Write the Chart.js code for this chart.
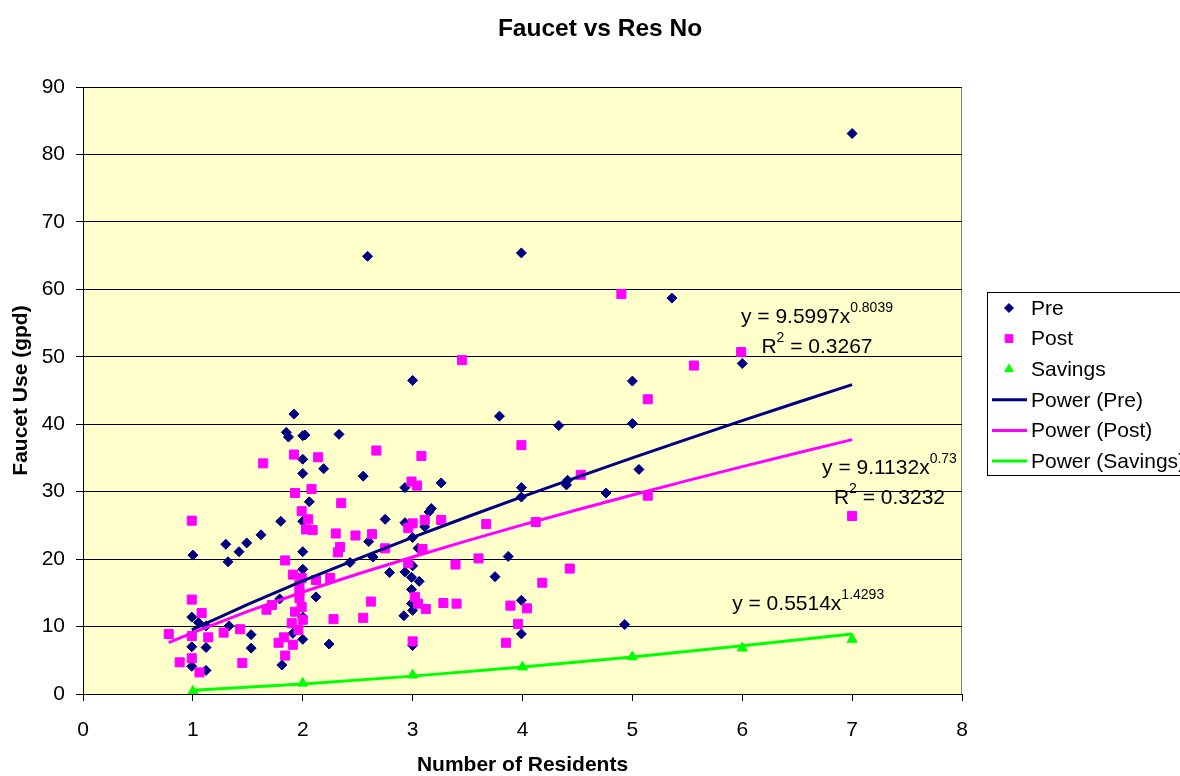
<!DOCTYPE html>
<html>
<head>
<meta charset="utf-8">
<title>Faucet vs Res No</title>
<script src="https://cdn.jsdelivr.net/npm/chart.js@4.4.1/dist/chart.umd.min.js"></script>
<style>
  html, body { margin: 0; padding: 0; background: #fff; }
  #wrap { width: 1180px; height: 776px; }
</style>
</head>
<body>
<div id="wrap"><canvas id="chart" width="1180" height="776"></canvas></div>
<script>
const FONT = "'Liberation Sans', Arial, sans-serif";

// Pre (gpd per home vs residents)
const preX = [1.0, 0.99, 1.05, 1.12, 0.99, 1.12, 0.99, 1.12,
    1.30, 1.32, 1.33, 1.42, 1.49, 1.53, 1.53,
    1.62, 1.79, 1.80, 1.81, 1.85, 1.87, 1.91, 1.92,
    2.0, 2.02, 2.0, 2.0, 2.0, 2.0, 2.0, 2.0, 2.0,
    2.06, 2.12, 2.19, 2.24, 2.33, 2.43, 2.55, 2.59, 2.60, 2.64,
    2.75, 2.79, 2.92, 2.93, 2.93, 2.93,
    3.0, 3.0, 3.0, 2.99, 2.99, 2.99, 3.0, 3.0,
    3.05, 3.06, 3.11, 3.15, 3.17, 3.26,
    3.75, 3.79, 3.87, 3.99, 3.99, 3.99, 3.99, 3.99,
    4.33, 4.40, 4.41, 4.76, 4.93, 5.0, 5.0, 5.06, 5.36, 6.0, 7.0];
const preY = [20.6, 11.4, 10.6, 10.1, 7.0, 6.9, 4.1, 3.5,
    22.2, 19.6, 10.1, 21.1, 22.4, 8.8, 6.8,
    23.6, 14.1, 25.6, 4.3, 38.8, 38.1, 9.0, 41.5,
    38.3, 38.4, 34.8, 32.7, 25.6, 21.1, 18.5, 11.4, 8.1,
    28.5, 14.4, 33.4, 7.4, 38.5, 19.5, 32.3, 64.9, 22.6, 20.3,
    25.9, 18.0, 11.6, 30.6, 25.4, 18.1,
    46.5, 23.2, 19.0, 17.3, 15.5, 13.4, 12.4, 7.2,
    21.6, 16.7, 24.8, 27.0, 27.5, 31.3,
    17.4, 41.2, 20.4, 65.4, 30.6, 29.2, 13.9, 8.9,
    39.8, 31.0, 31.7, 29.8, 10.3, 46.4, 40.1, 33.3, 58.7, 49.0, 83.1];

// Post
const postX = [0.78, 0.88, 0.99, 0.99, 0.99, 0.99, 1.06, 1.08, 1.14,
    1.28, 1.43, 1.45, 1.64, 1.67, 1.72, 1.78, 1.83, 1.84, 1.84,
    1.91, 1.91, 1.92, 1.93, 1.90, 1.93, 1.96, 1.97, 1.97, 1.97, 1.99, 1.99, 1.99,
    2.0, 2.03, 2.05, 2.09, 2.08, 2.12, 2.14,
    2.25, 2.28, 2.30, 2.32, 2.34, 2.35, 2.48, 2.55, 2.62, 2.63, 2.67, 2.75,
    2.96, 2.96, 2.99, 3.0, 3.0, 3.02, 3.04, 3.05, 3.08, 3.09, 3.11, 3.12, 3.26, 3.28, 3.39, 3.40, 3.45,
    3.60, 3.67, 3.85, 3.89, 3.96, 3.99, 4.04, 4.12, 4.18, 4.43, 4.53,
    4.90, 5.14, 5.14, 5.56, 5.99, 7.0];
const postY = [8.9, 4.7, 25.7, 14.0, 8.6, 5.3, 3.2, 12.0, 8.4,
    9.1, 9.6, 4.6, 34.2, 12.5, 13.2, 7.6, 8.4, 5.7, 19.8,
    17.7, 7.3, 35.5, 29.8, 10.5, 12.2, 9.5, 16.2, 15.2, 14.2, 17.2, 12.9, 27.1,
    11.0, 24.4, 25.9, 24.3, 30.4, 16.9, 35.1,
    17.2, 11.1, 23.8, 21.0, 21.8, 28.3, 23.5, 11.3, 13.7, 23.7, 36.1, 21.6,
    24.6, 19.4, 31.5, 25.3, 7.8, 14.4, 30.9, 13.4, 35.3, 21.5, 25.8, 12.6, 25.8, 13.5, 19.2, 13.4, 49.5,
    20.1, 25.2, 7.6, 13.1, 10.4, 36.9, 12.7, 25.5, 16.5, 18.6, 32.5,
    59.3, 43.7, 29.4, 48.7, 50.7, 26.4];

// Savings
const savX = [1, 2, 3, 4, 5, 6, 7];
const savY = [0.4, 1.6, 2.8, 4.0, 5.5, 6.8, 8.1];

// power trend lines
const preFitX = [0.99, 1.5, 2, 2.5, 3, 3.5, 4, 4.5, 5, 5.5, 6, 6.5, 7];
const preFitY = [9.52, 13.30, 16.76, 20.05, 23.22, 26.28, 29.26, 32.16, 35.01, 37.79, 40.53, 43.22, 45.88];
const postFitX = [0.78, 1, 1.5, 2, 2.5, 3, 3.5, 4, 4.5, 5, 5.5, 6, 6.5, 7];
const postFitY = [7.60, 9.11, 12.25, 15.12, 17.79, 20.32, 22.74, 25.07, 27.32, 29.51, 31.63, 33.71, 35.74, 37.72];
const savFitX = [1, 2, 3, 4, 5, 6, 7];
const savFitY = [0.55, 1.49, 2.65, 4.00, 5.50, 7.14, 8.90];

const xTickValues = [0, 1, 2, 3, 4, 5, 6, 7, 8];
const yTickValues = [0, 10, 20, 30, 40, 50, 60, 70, 80, 90];

// trendline equation text (segments, sup = superscript)
const eqPre = [[['y = 9.5997x'], ['0.8039', 'sup']], [['R'], ['2', 'sup'], [' = 0.3267']]];
const eqPost = [[['y = 9.1132x'], ['0.73', 'sup']], [['R'], ['2', 'sup'], [' = 0.3232']]];
const eqSav = [[['y = 0.5514x'], ['1.4293', 'sup']]];

const toPoints = (xs, ys) => xs.map((x, i) => ({ x, y: ys[i] }));

const plotBg = {
    id: 'plotBg',
    beforeDraw(chart) {
        const { ctx, chartArea: a } = chart;
        ctx.save();
        ctx.fillStyle = '#FFFFCC';
        ctx.fillRect(a.left, a.top, a.right - a.left, a.bottom - a.top);
        ctx.strokeStyle = '#808080';
        ctx.lineWidth = 1;
        ctx.strokeRect(a.left + 0.5, a.top + 0.5, a.right - a.left - 1, a.bottom - a.top);
        ctx.restore();
    }
};

const equations = {
    id: 'equations',
    afterDatasetsDraw(chart) {
        const { ctx, scales } = chart;
        const items = [
            { eq: eqPre, x: 6.68, y: 55.0 },
            { eq: eqPost, x: 7.34, y: 32.6 },
            { eq: eqSav, x: 6.6, y: 12.46 }
        ];
        const big = '21px ' + FONT;
        const small = '14px ' + FONT;
        ctx.save();
        ctx.fillStyle = '#000';
        ctx.textBaseline = 'alphabetic';
        ctx.textAlign = 'left';
        items.forEach((item) => {
            const cx = scales.x.getPixelForValue(item.x);
            let by = scales.y.getPixelForValue(item.y);
            item.eq.forEach((line) => {
                let w = 0;
                line.forEach(([t, s]) => {
                    ctx.font = s ? small : big;
                    w += ctx.measureText(t).width;
                });
                let x = cx - w / 2;
                line.forEach(([t, s]) => {
                    ctx.font = s ? small : big;
                    ctx.fillText(t, x, s ? by - 11 : by);
                    x += ctx.measureText(t).width;
                });
                by += 30;
            });
        });
        ctx.restore();
    }
};

const boxLegend = {
    id: 'boxLegend',
    afterDraw(chart) {
        const ctx = chart.ctx;
        const left = 987, top = 292, rowGap = 30.6;
        ctx.save();
        ctx.fillStyle = '#fff';
        ctx.fillRect(left, top, 240, 183);
        ctx.strokeStyle = '#000';
        ctx.lineWidth = 1;
        ctx.strokeRect(left + 0.5, top + 0.5, 240, 183);
        chart.data.datasets.forEach((ds, i) => {
            const cy = top + 16 + i * rowGap;
            if (ds.showLine) {
                ctx.strokeStyle = ds.borderColor;
                ctx.lineWidth = 3;
                ctx.beginPath();
                ctx.moveTo(left + 5, cy);
                ctx.lineTo(left + 40, cy);
                ctx.stroke();
            } else {
                ctx.fillStyle = ds.backgroundColor;
                ctx.strokeStyle = ds.borderColor;
                ctx.lineWidth = 1;
                Chart.helpers.drawPoint(ctx, {
                    pointStyle: ds.pointStyle,
                    radius: ds.legendRadius,
                    rotation: 0,
                    borderWidth: 1
                }, left + 22, cy);
            }
            ctx.fillStyle = '#000';
            ctx.font = '21px ' + FONT;
            ctx.textAlign = 'left';
            ctx.textBaseline = 'middle';
            ctx.fillText(ds.label, left + 44, cy + 1);
        });
        ctx.restore();
    }
};

Chart.defaults.font.family = FONT;
Chart.defaults.color = '#000';

new Chart(document.getElementById('chart'), {
    type: 'scatter',
    data: {
        datasets: [
            {
                label: 'Pre',
                data: toPoints(preX, preY),
                pointStyle: 'rectRot',
                pointRadius: 5,
                legendRadius: 4.5,
                backgroundColor: '#000080',
                borderColor: '#000080',
                borderWidth: 1,
                order: 3
            },
            {
                label: 'Post',
                data: toPoints(postX, postY),
                pointStyle: 'rect',
                pointRadius: 6.4,
                legendRadius: 5.5,
                backgroundColor: '#FF00FF',
                borderColor: '#FF00FF',
                borderWidth: 1,
                order: 2
            },
            {
                label: 'Savings',
                data: toPoints(savX, savY),
                pointStyle: 'triangle',
                pointRadius: 5.8,
                legendRadius: 5,
                backgroundColor: '#00FF00',
                borderColor: '#00FF00',
                borderWidth: 1,
                order: 1
            },
            {
                label: 'Power (Pre)',
                data: toPoints(preFitX, preFitY),
                showLine: true,
                pointRadius: 0,
                borderColor: '#000080',
                borderWidth: 3,
                order: 0
            },
            {
                label: 'Power (Post)',
                data: toPoints(postFitX, postFitY),
                showLine: true,
                pointRadius: 0,
                borderColor: '#FF00FF',
                borderWidth: 3,
                order: 0
            },
            {
                label: 'Power (Savings)',
                data: toPoints(savFitX, savFitY),
                showLine: true,
                pointRadius: 0,
                borderColor: '#00FF00',
                borderWidth: 3,
                order: 0
            }
        ]
    },
    options: {
        responsive: false,
        animation: false,
        layout: {
            padding: { left: 20, right: 0, top: 0, bottom: 0 }
        },
        plugins: {
            legend: { display: false },
            tooltip: { enabled: false },
            title: {
                display: true,
                text: 'Faucet vs Res No',
                font: { size: 24.5, weight: 'bold' },
                padding: { top: 15, bottom: 42.6 }
            }
        },
        scales: {
            x: {
                type: 'linear',
                min: 0,
                max: 8,
                afterBuildTicks: (scale) => {
                    scale.ticks = xTickValues.map((v) => ({ value: v }));
                },
                afterFit: (scale) => {
                    scale.height = 82;
                },
                grid: {
                    drawOnChartArea: false,
                    drawTicks: true,
                    tickLength: 7,
                    tickColor: '#000'
                },
                border: { color: '#000', width: 1 },
                ticks: {
                    font: { size: 21 },
                    padding: 17,
                    maxRotation: 0
                },
                title: {
                    display: true,
                    text: 'Number of Residents',
                    font: { size: 21, weight: 'bold', lineHeight: 1 },
                    padding: { top: 0, bottom: 0 }
                }
            },
            y: {
                type: 'linear',
                min: 0,
                max: 90,
                afterBuildTicks: (scale) => {
                    scale.ticks = yTickValues.map((v) => ({ value: v }));
                },
                afterFit: (scale) => {
                    scale.width = 63;
                },
                grid: {
                    color: '#000',
                    lineWidth: 1,
                    tickLength: 7,
                    tickColor: '#000'
                },
                border: { color: '#000', width: 1 },
                ticks: {
                    font: { size: 21 },
                    padding: 11
                },
                title: {
                    display: true,
                    text: 'Faucet Use (gpd)',
                    font: { size: 21, weight: 'bold', lineHeight: 1.2 },
                    padding: { top: -11.6, bottom: 0 }
                }
            },
            // empty right-hand strip that holds the legend box
            side: {
                type: 'linear',
                position: 'right',
                display: true,
                grid: { display: false, drawTicks: false },
                border: { display: false },
                ticks: { display: false },
                afterFit: (scale) => {
                    scale.width = 218;
                }
            }
        }
    },
    plugins: [plotBg, equations, boxLegend]
});
</script>
</body>
</html>
